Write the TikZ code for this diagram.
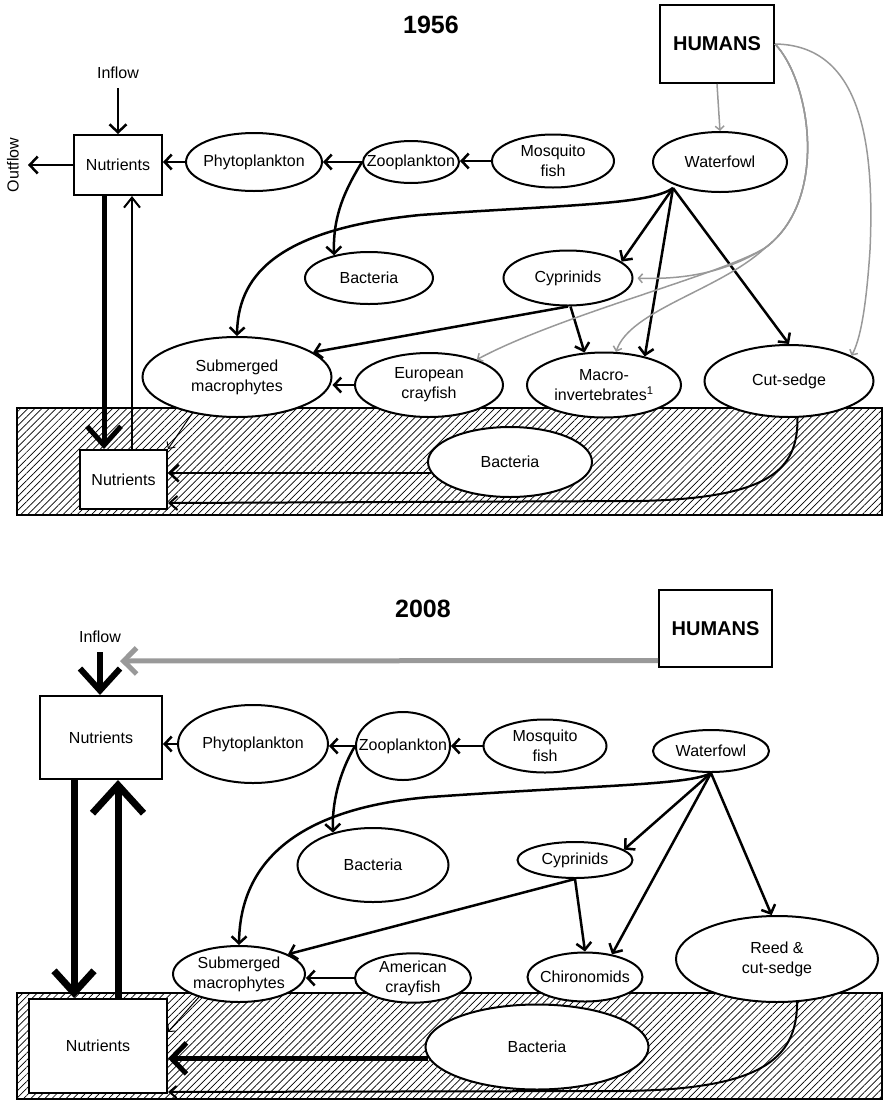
\documentclass[tikz,border=0pt]{standalone}
\usepackage{fontspec}
\setmainfont{Liberation Sans}
\usetikzlibrary{shapes.geometric,arrows.meta,patterns.meta}

\definecolor{humgray}{gray}{0.6}
\newcommand{\cw}[1]{\makebox[0pt]{#1}}

\tikzset{
    blob/.style={ellipse,draw,line width=2pt,fill=white,inner sep=0pt,align=center},
    bx/.style={rectangle,draw,line width=2pt,fill=white,inner sep=0pt},
    lbl/.style={inner sep=0pt},
    yr/.style={inner sep=0pt,font=\bfseries\fontsize{25}{30}\selectfont},
    hum/.style={bx,font=\bfseries\fontsize{20}{24}\selectfont},
    sediment/.style={draw,line width=2.5pt,pattern={Lines[angle=45,distance=5pt,line width=0.7pt]}},
    arr/.style={line width=2.5pt,-{Straight Barb[length=7pt,width=15pt]}},
    inarr/.style={line width=2.5pt,-{Straight Barb[length=8pt,width=17pt]}},
    hair/.style={line width=1pt,-{Straight Barb[length=5pt,width=10pt]}},
    gry/.style={humgray,line width=1.5pt,-{Straight Barb[length=4pt,width=9pt]}},
}

\begin{document}
\begin{tikzpicture}[x=1pt,y=-1pt,font=\fontsize{16}{20}\selectfont]
    \useasboundingbox (0,0) rectangle (884,1101);

    % 1956
    \node[yr] (yr1) at (431,25) {1956};
    \node[hum,minimum width=114pt,minimum height=78pt] (hum1) at (717,44) {HUMANS};
    \draw[sediment] (17,408) rectangle (882,515);

    \node[lbl] (in1) at (118,73) {Inflow};
    \node[lbl,rotate=90] (out1) at (13,165) {Outflow};
    \coordinate (o1) at (28,165);
    \node[bx,minimum width=88pt,minimum height=60pt] (nut1) at (118,165) {Nutrients};
    \node[blob,minimum width=136pt,minimum height=58pt] (phy1) at (254,162) {\cw{Phytoplankton}};
    \node[blob,minimum width=96pt,minimum height=42pt] (zoo1) at (411,162) {\cw{Zooplankton}};
    \node[blob,minimum width=122pt,minimum height=53pt] (mos1) at (553,161) {\cw{Mosquito}\\\cw{fish}};
    \node[blob,minimum width=134pt,minimum height=60pt] (wf1) at (720,162) {\cw{Waterfowl}};
    \coordinate (wfs1) at (673,188);
    \coordinate (hb1) at (765,248);
    \node[blob,minimum width=128pt,minimum height=52pt] (bac1) at (369,278) {\cw{Bacteria}};
    \node[blob,minimum width=129pt,minimum height=55pt] (cyp1) at (568,278) {\cw{Cyprinids}};
    \node[blob,minimum width=189pt,minimum height=80pt] (sub1) at (237,377) {\cw{Submerged}\\\cw{macrophytes}};
    \node[blob,minimum width=148pt,minimum height=64pt] (cray1) at (429,385) {\cw{European}\\\cw{crayfish}};
    \node[blob,minimum width=154pt,minimum height=65pt] (mac1) at (604,385) {\cw{Macro-}\\\cw{invertebrates\textsuperscript{1}}};
    \node[blob,minimum width=169pt,minimum height=72pt] (sed1) at (789,381) {\cw{Cut-sedge}};
    \node[bx,minimum width=87pt,minimum height=59pt] (nut1b) at (123.5,479.5) {Nutrients};
    \node[blob,minimum width=164pt,minimum height=70pt] (bacl1) at (510,462) {\cw{Bacteria}};

    \draw[inarr,shorten <=9pt] (in1) -- (nut1);
    \draw[inarr] (nut1) -- (o1);
    \draw[arr] (phy1.west) -- (phy1.west -| nut1.east);
    \draw[arr] (zoo1.west) -- (zoo1.west -| phy1.east);
    \draw[arr] (mos1.west) -- (mos1.west -| zoo1.east);
    \draw[arr] (zoo1.west) .. controls (345,190) and (333,215) .. (bac1.147);
    \draw[arr] (wfs1) .. controls (650,205) and (560,205) .. (420,215) .. controls (270,230) and (238,280) .. (sub1.north);
    \draw[arr] (wfs1) -- (cyp1.17);
    \draw[arr] (wfs1) -- (mac1.35);
    \draw[arr] (wfs1) -- (sed1.north);
    \draw[arr] (cyp1.south) -- (sub1.18);
    \draw[arr] (cyp1.-85) -- (mac1.121);
    \draw[arr] (cray1.west) -- (cray1.west -| sub1.east);

    \draw[gry] (hum1.south) -- (wf1.north);
    \draw[gry] (hum1.east) .. controls (860,45) and (875,140) .. (870,250) .. controls (866,310) and (860,340) .. (sed1.22);
    \draw[gry,shorten >=4pt] (hum1.east) .. controls (810,80) and (830,200) .. (hb1) .. controls (730,270) and (690,280) .. (cyp1.east);
    \draw[gry] (hum1.east) .. controls (810,80) and (830,200) .. (hb1) .. controls (720,275) and (560,315) .. (cray1.28);
    \draw[gry] (hum1.east) .. controls (810,80) and (830,200) .. (hb1) .. controls (720,290) and (630,310) .. (mac1.70);

    \draw[line width=5pt,-{Straight Barb[length=19pt,width=34pt]}] ([xshift=-14pt]nut1.south) -- ([xshift=-14pt]nut1.south |- nut1b.north);
    \draw[line width=2pt,-{Straight Barb[length=10pt,width=16pt]}] ([xshift=8.5pt]nut1b.north) -- ([xshift=8.5pt]nut1b.north |- nut1.south);
    \draw[hair] (sub1.219) -- (nut1b.north east);
    \draw[line width=2.5pt,-{Straight Barb[length=9pt,width=17pt]}] (bacl1.188) -- (bacl1.188 -| nut1b.east);
    \draw[line width=2pt,-{Straight Barb[length=8pt,width=14pt]}] (sed1.-77) .. controls (798,470) and (770,498) .. (640,501) -- ([yshift=7pt]nut1b.south east);

    % 2008
    \node[yr] (yr2) at (423,609) {2008};
    \node[hum,minimum width=113pt,minimum height=77pt] (hum2) at (715.5,628.5) {HUMANS};
    \draw[sediment] (17,993) rectangle (882,1099);

    \node[lbl] (in2) at (100,637) {Inflow};
    \coordinate (hin2) at (120,661);
    \node[bx,minimum width=122pt,minimum height=83pt] (nut2) at (101,737.5) {Nutrients};
    \node[blob,minimum width=150pt,minimum height=78pt] (phy2) at (253,744) {\cw{Phytoplankton}};
    \node[blob,minimum width=94pt,minimum height=68pt] (zoo2) at (403,746) {\cw{Zooplankton}};
    \node[blob,minimum width=123pt,minimum height=53pt] (mos2) at (545,746) {\cw{Mosquito}\\\cw{fish}};
    \node[blob,minimum width=116pt,minimum height=42pt] (wf2) at (711,751) {\cw{Waterfowl}};
    \node[blob,minimum width=151pt,minimum height=74pt] (bac2) at (373,865) {\cw{Bacteria}};
    \node[blob,minimum width=115pt,minimum height=36pt] (cyp2) at (575,860) {\cw{Cyprinids}};
    \node[blob,minimum width=132pt,minimum height=56pt] (sub2) at (239,974) {\cw{Submerged}\\\cw{macrophytes}};
    \node[blob,minimum width=116pt,minimum height=49pt] (cray2) at (413,978) {\cw{American}\\\cw{crayfish}};
    \node[blob,minimum width=115pt,minimum height=49pt] (chi2) at (585,977) {\cw{Chironomids}};
    \node[blob,minimum width=202pt,minimum height=86pt] (reed2) at (777,959) {\cw{Reed \&}\\\cw{cut-sedge}};
    \node[bx,minimum width=138pt,minimum height=94pt] (nut2b) at (98,1046) {Nutrients};
    \node[blob,minimum width=223pt,minimum height=85pt] (bacl2) at (537,1047) {\cw{Bacteria}};

    \draw[humgray,line width=5pt,-{Straight Barb[length=13pt,width=26pt]}] ([yshift=-32pt]hum2.west) -- (hin2);
    \draw[line width=6pt,-{Straight Barb[length=22pt,width=40pt]},shorten <=9pt] (in2) -- (in2 |- nut2.north);
    \draw[arr] (phy2.west) -- (phy2.west -| nut2.east);
    \draw[arr] (zoo2.west) -- (zoo2.west -| phy2.east);
    \draw[arr] (mos2.west) -- (mos2.west -| zoo2.east);
    \draw[arr] (zoo2.west) .. controls (338,775) and (332,805) .. (bac2.141);
    \draw[arr] (wf2.south) .. controls (690,785) and (600,785) .. (430,797) .. controls (300,808) and (240,860) .. (sub2.north);
    \draw[arr] (wf2.south) -- (cyp2.12);
    \draw[arr] (wf2.south) -- (chi2.40);
    \draw[arr] (wf2.south) -- (reed2.97);
    \draw[arr] (cyp2.south) -- (sub2.22);
    \draw[arr] (cyp2.south) -- (chi2.north);
    \draw[arr] (cray2.west) -- (cray2.west -| sub2.east);

    \draw[line width=7pt,-{Straight Barb[length=22pt,width=40pt]}] ([xshift=-27pt]nut2.south) -- ([xshift=-27pt]nut2.south |- nut2b.north);
    \draw[line width=7pt,-{Straight Barb[length=28pt,width=51pt]}] ([xshift=20pt]nut2b.north) -- ([xshift=20pt]nut2b.north |- nut2.south);
    \draw[hair] (sub2.210) -- ([yshift=-34pt]nut2b.north east);
    \draw[line width=5pt,-{Straight Barb[length=15pt,width=31pt]}] (bacl2.186) -- (bacl2.186 -| nut2b.east);
    \draw[line width=2pt,-{Straight Barb[length=7pt,width=12pt]}] (reed2.-65) .. controls (797,1060) and (760,1090) .. (620,1091) -- ([yshift=2pt]nut2b.south east);
\end{tikzpicture}
\end{document}
